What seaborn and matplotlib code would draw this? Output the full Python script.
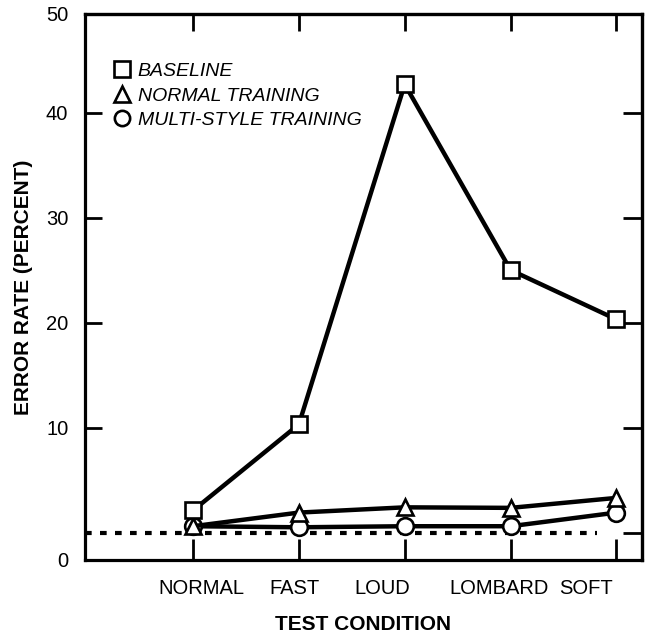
import matplotlib
matplotlib.use("Agg")
import matplotlib.pyplot as plt
from matplotlib.lines import Line2D
import pandas as pd
import seaborn as sns

# values (error rate, percent)
conditions = ["NORMAL", "FAST", "LOUD", "LOMBARD", "SOFT"]
baseline = [2.1, 10.3, 42.7, 25.0, 20.3]
normal_training = [0.6, 1.9, 2.4, 2.35, 3.3]
multi_style = [0.6, 0.5, 0.6, 0.6, 1.9]
reference_level = 0.0

series_names = ["BASELINE", "NORMAL TRAINING", "MULTI-STYLE TRAINING"]
y_ticks = [10, 20, 30, 40]
y_lo, y_hi = -2.6, 49.4


def build_frame() -> pd.DataFrame:
    rows = []
    for name, values in zip(series_names, [baseline, normal_training, multi_style]):
        for i, (cond, val) in enumerate(zip(conditions, values)):
            rows.append({"series": name, "pos": i, "condition": cond, "rate": val})
    return pd.DataFrame(rows)


def main() -> None:
    df = build_frame()

    sns.set_theme(style="ticks")
    plt.rcParams["font.family"] = ["Liberation Sans", "DejaVu Sans"]
    plt.rcParams["text.color"] = "black"
    plt.rcParams["axes.labelcolor"] = "black"
    plt.rcParams["xtick.color"] = "black"
    plt.rcParams["ytick.color"] = "black"

    fig = plt.figure(figsize=(6.49, 6.34), dpi=100)
    ax = fig.add_axes([0.131, 0.117, 0.858, 0.861])

    ax.axhline(reference_level, xmin=0.0, xmax=0.92, color="black", lw=3,
               linestyle=(0, (1.6, 2.0)), dash_capstyle="butt", zorder=1)

    markers = {"BASELINE": "s", "NORMAL TRAINING": "^", "MULTI-STYLE TRAINING": "o"}
    order = ["MULTI-STYLE TRAINING", "NORMAL TRAINING", "BASELINE"]
    for z, name in enumerate(order):
        sub = df[df["series"] == name]
        sns.lineplot(
            data=sub, x="pos", y="rate", ax=ax, color="black", lw=3.2,
            marker=markers[name], markersize=12, markerfacecolor="white",
            markeredgecolor="black", markeredgewidth=1.9, zorder=3 + z,
            legend=False,
        )

    ax.set_xlim(-1.02, 4.24)
    ax.set_ylim(y_lo, y_hi)

    # category labels, nudged sideways like the hand-set originals
    ax.set_xticks(range(len(conditions)))
    ax.set_xticklabels([])
    label_shift = [6, -3, -16, -8, -22]
    for i, (cond, dx) in enumerate(zip(conditions, label_shift)):
        ax.annotate(cond, xy=(i, 0), xycoords=("data", "axes fraction"),
                    xytext=(dx, -14), textcoords="offset points",
                    ha="center", va="top", fontsize=14.5)

    ax.set_yticks([y_lo] + y_ticks + [y_hi])
    ax.set_yticklabels(["0"] + [str(t) for t in y_ticks] + ["50"], fontsize=14.5)

    ax.tick_params(axis="x", direction="in", length=15, width=2)
    ax.tick_params(axis="y", direction="in", length=12, width=2, pad=12)

    top = ax.secondary_xaxis("top")
    top.set_xticks(range(len(conditions)))
    top.tick_params(direction="in", length=12, width=2, labeltop=False)
    top.spines["top"].set_linewidth(2.3)
    right = ax.secondary_yaxis("right")
    right.set_yticks([0] + y_ticks)
    right.tick_params(direction="in", length=14, width=2, labelright=False)
    right.spines["right"].set_linewidth(2.3)

    for side in ["left", "bottom", "top", "right"]:
        ax.spines[side].set_visible(True)
        ax.spines[side].set_linewidth(2.3)
        ax.spines[side].set_color("black")

    ax.set_xlabel("TEST CONDITION", fontsize=15, fontweight="bold", labelpad=36)
    ax.set_ylabel("ERROR RATE (PERCENT)", fontsize=15, fontweight="bold", labelpad=9)

    handles = [
        Line2D([], [], linestyle="none", marker=markers[n], markersize=11,
               markerfacecolor="white", markeredgecolor="black", markeredgewidth=1.9)
        for n in series_names
    ]
    ax.legend(handles, series_names, loc="upper left", bbox_to_anchor=(0.035, 0.925),
              frameon=False, handletextpad=0.3, labelspacing=0.35, borderaxespad=0,
              handlelength=1.0, prop={"style": "italic", "size": 14})

    fig.savefig("out.png", dpi=100)
    plt.close(fig)


if __name__ == "__main__":
    main()
